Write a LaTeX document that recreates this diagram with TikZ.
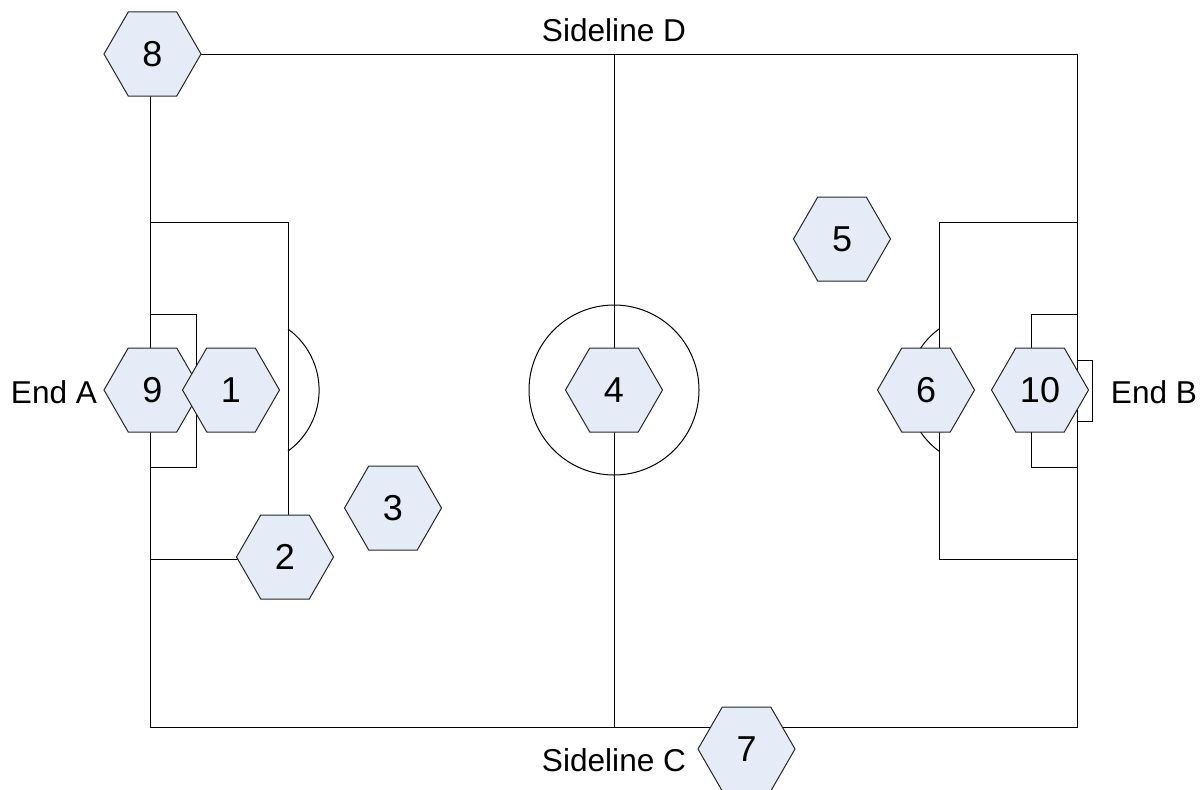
\documentclass[tikz,border=0pt]{standalone}
\usepackage{fontspec}
\setmainfont{Liberation Sans}
\usetikzlibrary{shapes}
\definecolor{hexfill}{HTML}{E6ECF7}
\begin{document}
\begin{tikzpicture}[x=0.75pt, y=-0.75pt, line width=0.75pt, font=\fontsize{23.7pt}{28pt}\selectfont,
        player/.style={regular polygon, regular polygon sides=6, draw=black!85, fill=hexfill, minimum size=72.75pt, inner sep=0pt, outer sep=0pt, font=\fontsize{27pt}{32pt}\selectfont}]
                \useasboundingbox (0,0) rectangle (1201,789);
                \draw (150,54) rectangle (1077,727);
                \draw (614,54) -- (614,727);
                \draw (614,390) circle [radius=63.75pt];
                \draw (150,222) rectangle (288,559);
                \draw (150,314) rectangle (196,467);
                \draw (288,329) arc [start angle=54, end angle=-54, radius=56.6pt];
                \draw (939,222) rectangle (1077,559);
                \draw (1031,314) rectangle (1077,467);
                \draw (939,329) arc [start angle=126, end angle=234, radius=56.6pt];
                \draw (1077,360) -- (1092,360) -- (1092,421) -- (1077,421);
                \node[player] (eight) at (152.5,54) {8};
                \node[player] (nine) at (152.5,390) {9};
                \node[player] (one) at (231,390) {1};
                \node[player] (two) at (285,557) {2};
                \node[player] (three) at (393,508) {3};
                \node[player] (four) at (614,390) {4};
                \node[player] (five) at (842,239) {5};
                \node[player] (six) at (926,390) {6};
                \node[player] (ten) at (1040,390) {10};
                \node[player] (seven) at (746.5,749) {7};
                \node (endA) at (54,392) {End A};
                \node (endB) at (1154,392) {End B};
                \node (sideD) at (614,30) {Sideline D};
                \node (sideC) at (614,760) {Sideline C};
            \end{tikzpicture}
\end{document}
